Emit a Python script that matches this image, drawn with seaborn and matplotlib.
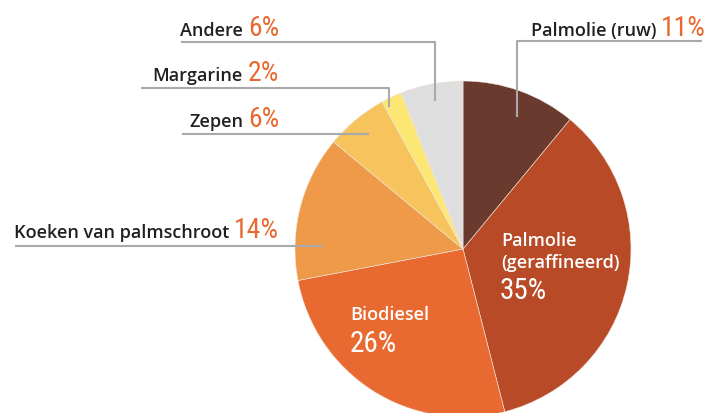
import matplotlib
matplotlib.use('Agg')
import matplotlib.pyplot as plt
from matplotlib import font_manager
import seaborn as sns

# Data
labels = ['Palmolie (ruw)', 'Palmolie\n(geraffineerd)', 'Biodiesel',
          'Koeken van palmschroot', 'Zepen', 'Margarine', 'Andere']
shares = [11, 35, 26, 14, 6, 2, 6]
colors = ['#6B3A2E', '#B84A27', '#E96A31', '#EF9A48', '#F6C35C', '#FCE775', '#DEDEDE']

sns.set_theme(style='white')
plt.rcParams['font.family'] = ['Open Sans', 'DejaVu Sans']

available = {f.name for f in font_manager.fontManager.ttflist}
num_font = 'DejaVu Sans'
for name in ['Liberation Sans Narrow', 'DejaVu Sans Condensed', 'Roboto Condensed', 'Open Sans Condensed']:
    if name in available:
        num_font = name
        break

dark = '#231F20'
orange = '#E8692F'
grey = '#A7A9AC'

fig = plt.figure(figsize=(7.10, 4.14), dpi=100)
ax = fig.add_axes([0, 0, 1, 1])

# pie (y axis inverted -> startangle -90 and counterclock=True reads clockwise from top)
ax.pie(shares, colors=colors, startangle=-90, counterclock=True,
       center=(463, 250), radius=168, frame=True,
       wedgeprops=dict(linewidth=0.4, edgecolor='#f0e6e0'))
ax.set_xlim(0, 710)
ax.set_ylim(414, 0)
ax.set_aspect('equal')
ax.axis('off')

lab_kw = dict(fontsize=13, fontweight='semibold', color=dark, va='baseline', ha='left')
num_kw = dict(fontsize=20, color=orange, va='baseline', ha='right', family=num_font)

# outside labels: (text, pct, text x, pct right x, baseline y)
outside = [
    ('Andere', shares[6], 180, 279, 36),
    ('Margarine', shares[5], 152, 279, 81),
    ('Zepen', shares[4], 189, 279, 127),
    ('Koeken van palmschroot', shares[3], 14, 279, 238),
    ('Palmolie (ruw)', shares[0], 531, 706, 36),
]
for txt, pct, tx, px, by in outside:
    ax.text(tx, by, txt, **lab_kw)
    ax.text(px, by, f'{pct}%', **num_kw)

# leader lines
line_kw = dict(color=grey, lw=1.5, solid_capstyle='butt')
ax.plot([181, 435, 435], [43, 43, 102], **line_kw)
ax.plot([141, 389, 389], [89, 89, 108], **line_kw)
ax.plot([182, 369], [135, 135], **line_kw)
ax.plot([15, 323], [247, 247], **line_kw)
ax.plot([702, 517, 517], [42, 42, 118], **line_kw)

# inside labels
in_kw = dict(fontsize=13, fontweight='semibold', color='white', va='baseline', ha='left')
in_num = dict(fontsize=21, color='white', va='baseline', ha='left', family=num_font)
ax.text(501, 246, 'Palmolie', **in_kw)
ax.text(501, 268, '(geraffineerd)', **in_kw)
ax.text(500, 299, f'{shares[1]}%', **in_num)
ax.text(350, 320, 'Biodiesel', **in_kw)
ax.text(350, 352, f'{shares[2]}%', **in_num)

fig.savefig('out.png', dpi=100)
